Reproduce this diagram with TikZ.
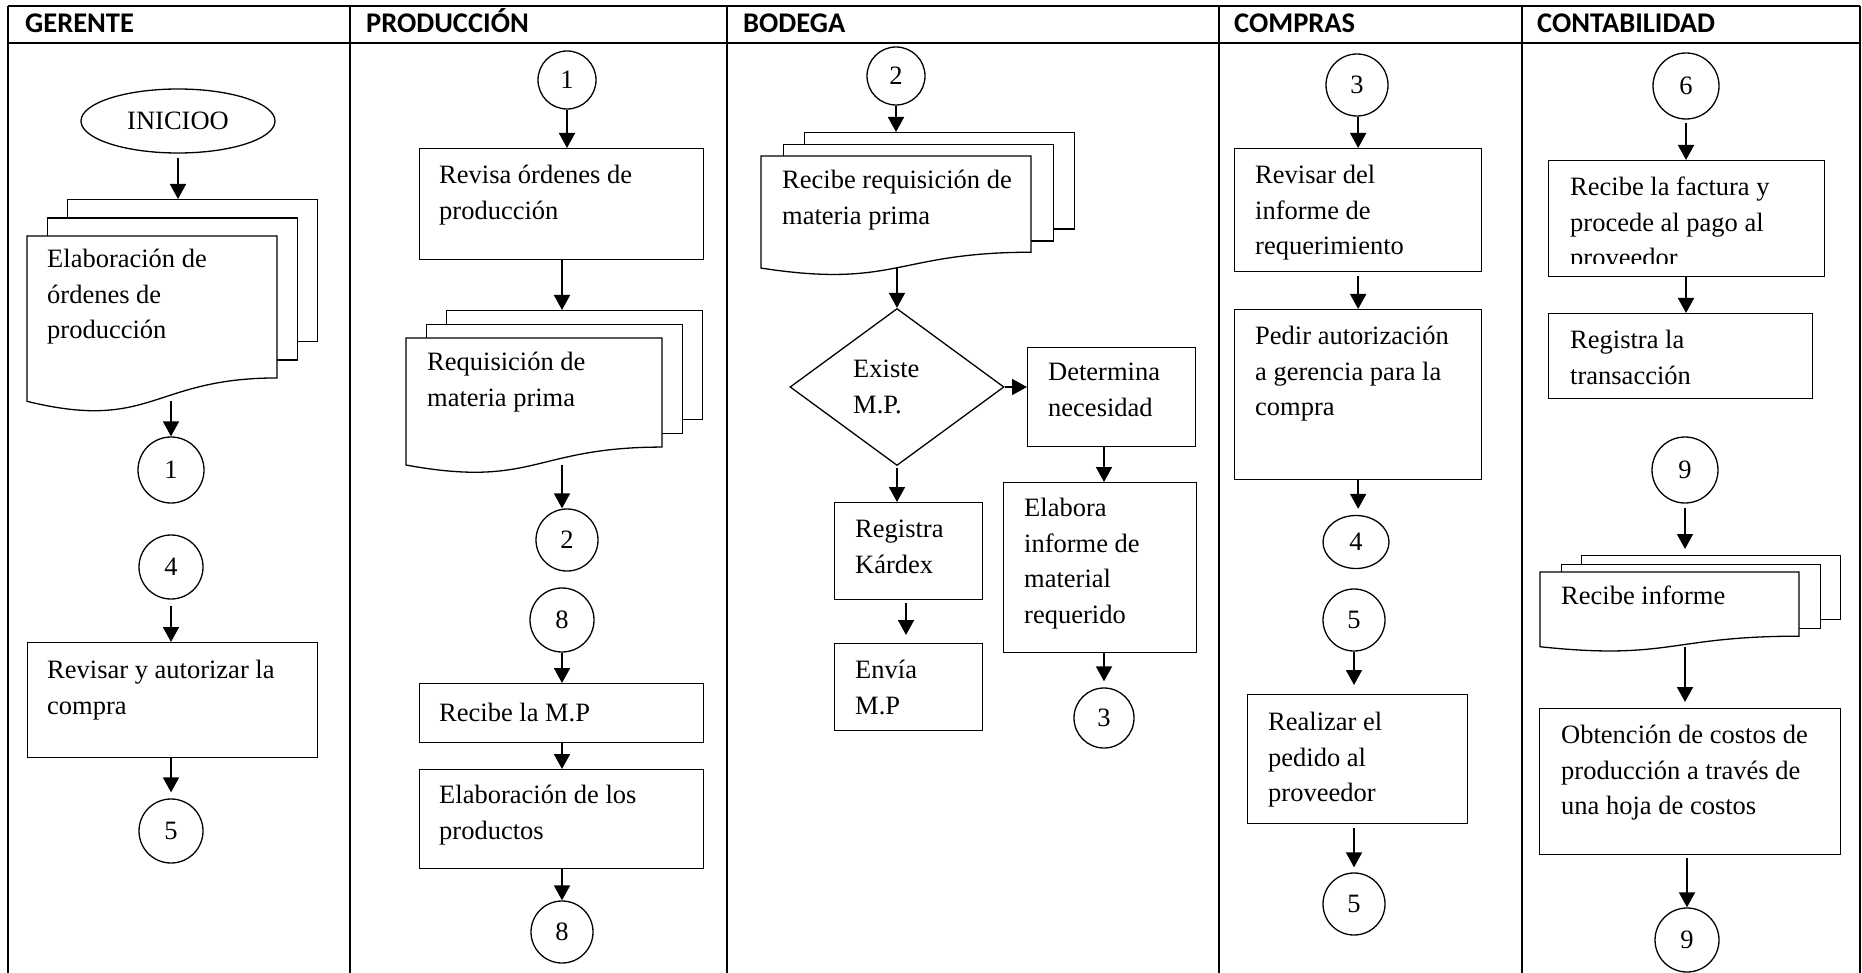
\documentclass[tikz,border=0pt]{standalone}
\usepackage{fontspec}
\setmainfont{Liberation Serif}
\newfontfamily\hdrfont{Carlito}
\usetikzlibrary{shapes.geometric,arrows.meta}

\newcommand\bodysize{\fontsize{26.5}{35.5}\selectfont}

\tikzset{
  lane/.style={line width=2.3pt},
  box/.style={draw, line width=1.3pt, fill=white, rectangle, inner sep=0pt, anchor=north west},
  conn/.style={draw, circle, line width=1.3pt, inner sep=0pt, font=\bodysize},
  txt/.style={anchor=north west, inner sep=0pt, align=left, font=\bodysize, execute at begin node=\strut},
  hdr/.style={anchor=base west, inner sep=0pt, font=\hdrfont\bfseries\fontsize{28.5}{34}\selectfont},
  arr/.style={line width=1.8pt, -{Triangle[length=15pt,width=16pt]}},
}

% stacked documents: name, left, top, width, height of front sheet, x offset, y offset
\newcommand\mdoc[7]{%
  \node[box, minimum width=#4pt, minimum height={0.802*#5pt}] (#1-3) at ({#2+2*#6},{#3-2*#7}) {};
  \node[box, minimum width=#4pt, minimum height={0.802*#5pt}] (#1-2) at ({#2+#6},{#3-#7}) {};
  \node[inner sep=0pt, anchor=north west, minimum width=#4pt, minimum height=#5pt] (#1) at (#2,#3) {};
  \draw[line width=1.3pt, fill=white] (#2,#3) -- ({#2+#4},#3) -- ({#2+#4},{#3+0.802*#5})
     .. controls ({#2+0.5*#4},{#3+0.802*#5}) and ({#2+0.5*#4},{#3+1.107*#5}) .. (#2,{#3+0.934*#5}) -- cycle;
  \coordinate (#1-b) at ({#2+0.5*#4},{#3+0.933*#5});
}

\begin{document}
\begin{tikzpicture}[x=1pt,y=-1pt]
\useasboundingbox (0,0) rectangle (1862,973);

% lanes
\draw[lane] (8,6) -- (1860,6);
\draw[lane] (8,43) -- (1860,43);
\foreach \x in {8,350,727,1219,1522,1860} \draw[lane] (\x,6) -- (\x,975);

\node[hdr] (h1) at (25,33) {GERENTE};
\node[hdr] (h2) at (366,33) {PRODUCCIÓN};
\node[hdr] (h3) at (743,33) {BODEGA};
\node[hdr] (h4) at (1234,33) {COMPRAS};
\node[hdr] (h5) at (1537,33) {CONTABILIDAD};

% ---------------- GERENTE
\node[draw, ellipse, line width=1.3pt, inner sep=0pt, minimum width=194pt, minimum height=64pt, font=\bodysize] (ini) at (178,121) {INICIOO};
\mdoc{gdoc}{27}{236}{250}{177}{20}{18.5}
\node[txt] (t-g1) at (47,249) {Elaboración de\\órdenes de\\producción};
\node[conn, minimum size=66pt] (g1) at (171,470) {1};
\node[conn, minimum size=64pt] (g4) at (171,567) {4};
\node[box, minimum width=290pt, minimum height=115pt] (gbox) at (27,642) {};
\node[txt] (t-g2) at (47,660) {Revisar y autorizar la\\compra};
\node[conn, minimum size=64pt] (g5) at (171,831) {5};

\draw[arr, shorten <=4pt] (ini.south) -- (ini.south |- gdoc-3.north);
\draw[arr] (gdoc-b -| g1.north) -- (g1.north);
\draw[arr, shorten <=6pt] (g4.south) -- (g4.south |- gbox.north);
\draw[arr, shorten >=6pt] (gbox.south -| g5.north) -- (g5.north);

% ---------------- PRODUCCION
\node[conn, minimum size=58pt] (p1) at (567,80) {1};
\node[box, minimum width=284pt, minimum height=111pt] (pbox1) at (419,148) {};
\node[txt] (t-p1) at (439,165) {Revisa órdenes de\\producción};
\mdoc{pdoc}{406}{338}{256}{136}{20}{14}
\node[txt] (t-p2) at (427,352) {Requisición de\\materia prima};
\node[conn, minimum size=62pt] (p2) at (567,540) {2};
\node[conn, minimum size=64pt] (p8a) at (562,620) {8};
\node[box, minimum width=284pt, minimum height=59pt] (pbox2) at (419,683) {};
\node[txt] (t-p3) at (439,696) {Recibe la M.P};
\node[box, minimum width=284pt, minimum height=99pt] (pbox3) at (419,769) {};
\node[txt] (t-p4) at (439,785) {Elaboración de los\\productos};
\node[conn, minimum size=62pt] (p8b) at (562,932) {8};

\draw[arr] (p1.south) -- (p1.south |- pbox1.north);
\draw[arr] (pbox1.south -| p8a.north) -- (pdoc-3.north -| p8a.north);
\draw[arr] (pdoc-b -| p8a.north) -- (p2.north -| p8a.north);
\draw[arr] (p8a.south) -- (p8a.south |- pbox2.north);
\draw[arr] (pbox2.south -| p8a.north) -- (pbox3.north -| p8a.north);
\draw[arr] (pbox3.south -| p8b.north) -- (p8b.north);

% ---------------- BODEGA
\node[conn, minimum size=58pt] (b2) at (896,76) {2};
\mdoc{bdoc}{761}{156}{270}{120}{21.5}{12}
\node[txt] (t-b1) at (782,170) {Recibe requisición de\\materia prima};
\node[draw, diamond, line width=1.3pt, inner sep=0pt, aspect=1.363, minimum width=214pt, minimum height=157pt] (dia) at (897,387) {};
\node[txt] (t-b2) at (853,360) {Existe\\M.P.};
\node[box, minimum width=168pt, minimum height=99pt] (det) at (1027,347) {};
\node[txt] (t-b3) at (1048,363) {Determina\\necesidad};
\node[box, minimum width=193pt, minimum height=170pt] (elab) at (1003,482) {};
\node[txt] (t-b4) at (1024,498) {Elabora\\informe de\\material\\requerido};
\node[conn, minimum size=60pt] (b3) at (1104,718) {3};
\node[box, minimum width=148pt, minimum height=97pt] (kard) at (834,502) {};
\node[txt] (t-b5) at (855,520) {Registra\\Kárdex};
\node[box, minimum width=148pt, minimum height=87pt] (envia) at (834,643) {};
\node[txt] (t-b6) at (855,660) {Envía\\M.P};

\draw[arr] (b2.south) -- (b2.south |- bdoc-3.north);
\draw[arr] (bdoc-b -| dia.north) -- (dia.north);
\draw[arr] (dia.east) -- (dia.east -| det.west);
\draw[arr] (det.south -| b3.north) -- (elab.north -| b3.north);
\draw[arr, shorten >=6pt] (elab.south -| b3.north) -- (b3.north);
\draw[arr, shorten <=2pt] (dia.south) -- (dia.south |- kard.north);
\draw[arr, shorten <=3pt, shorten >=8pt] (kard.south -| 906,0) -- (envia.north -| 906,0);

% ---------------- COMPRAS
\node[conn, minimum size=62pt] (c3) at (1357,85) {3};
\node[box, minimum width=247pt, minimum height=123pt] (cbox1) at (1234,148) {};
\node[txt] (t-c1) at (1255,165) {Revisar del\\informe de\\requerimiento};
\node[box, minimum width=247pt, minimum height=170pt] (cbox2) at (1234,309) {};
\node[txt] (t-c2) at (1255,326) {Pedir autorización\\a gerencia para la\\compra};
\node[draw, ellipse, line width=1.3pt, inner sep=0pt, minimum width=66pt, minimum height=53pt, font=\bodysize] (c4) at (1356,542) {4};
\node[conn, minimum size=62pt] (c5a) at (1354,620) {5};
\node[box, minimum width=220pt, minimum height=129pt] (cbox3) at (1247,694) {};
\node[txt] (t-c3) at (1268,712) {Realizar el\\pedido al\\proveedor};
\node[conn, minimum size=62pt] (c5b) at (1354,904) {5};

\draw[arr] (c3.south -| cbox1.north) -- (cbox1.north);
\draw[arr, shorten <=4pt] (cbox1.south) -- (cbox2.north);
\draw[arr, shorten >=6pt] (cbox2.south) -- (cbox2.south |- c4.north);
\draw[arr, shorten >=9pt] (c5a.south) -- (c5a.south |- cbox3.north);
\draw[arr, shorten <=4pt, shorten >=5pt] (cbox3.south -| c5b.north) -- (c5b.north);

% ---------------- CONTABILIDAD
\node[conn, minimum size=66pt] (k6) at (1686,86) {6};
\node[box, minimum width=276pt, minimum height=116pt] (kbox1) at (1548,160) {};
\begin{scope}
  \clip (1548,160) rectangle (1824,264);
  \node[txt] (t-k1) at (1570,177) {Recibe la factura y\\procede al pago al\\proveedor};
\end{scope}
\node[box, minimum width=264pt, minimum height=85pt] (kbox2) at (1548,313) {};
\node[txt] (t-k2) at (1570,330) {Registra la\\transacción};
\node[conn, minimum size=66pt] (k9a) at (1685,470) {9};
\mdoc{kdoc}{1540}{572}{259}{80}{20.5}{8.5}
\node[txt] (t-k3) at (1561,579) {Recibe informe};
\node[box, minimum width=301pt, minimum height=146pt] (kbox3) at (1539,708) {};
\node[txt] (t-k4) at (1561,725) {Obtención de costos de\\producción a través de\\una hoja de costos};
\node[conn, minimum size=64pt] (k9b) at (1687,940) {9};

\draw[arr, shorten <=3pt] (k6.south) -- (k6.south |- kbox1.north);
\draw[arr] (kbox1.south -| k6.south) -- (kbox2.north -| k6.south);
\draw[arr, shorten <=4pt, shorten >=6pt] (k9a.south) -- (k9a.south |- kdoc-3.north);
\draw[arr, shorten >=6pt] (kdoc-b -| k9a.south) -- (kbox3.north -| k9a.south);
\draw[arr, shorten <=3pt] (kbox3.south -| k9b.north) -- (k9b.north);
\end{tikzpicture}
\end{document}
